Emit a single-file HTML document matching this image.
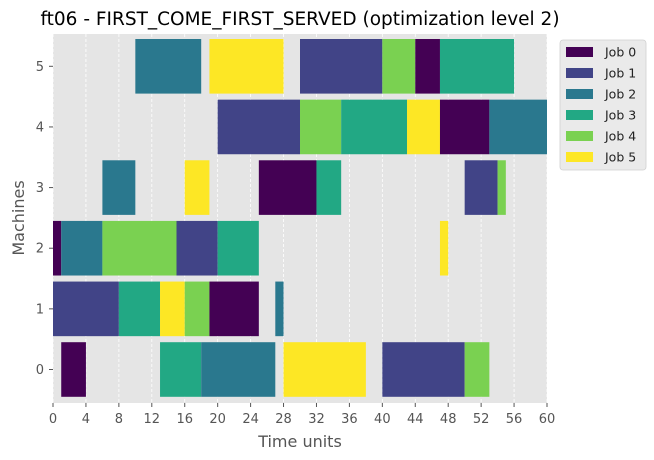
<!DOCTYPE html>
<html><head><meta charset="utf-8"><style>
body{margin:0;background:#fff;}
svg{display:block;font-family:"DejaVu Sans","Liberation Sans",sans-serif;}
</style></head><body>
<svg id="chart" width="654" height="460" viewBox="0 0 654 460" xmlns="http://www.w3.org/2000/svg">
<rect x="0" y="0" width="654" height="460" fill="#fff"/>
<text x="300" y="25" text-anchor="middle" font-size="18.5" fill="#000">ft06 - FIRST_COME_FIRST_SERVED (optimization level 2)</text>
<rect x="53" y="34" width="494" height="369" fill="#e5e5e5"/>
<g id="grid"></g>
<g id="bars"></g>
<g id="xaxis"></g>
<g id="yaxis"></g>
<text x="300" y="447" text-anchor="middle" font-size="16" fill="#555">Time units</text>
<text x="24" y="218" text-anchor="middle" font-size="16" fill="#555" transform="rotate(-90 24 218)">Machines</text>
<g id="legend"></g>
</svg>
<script>
const jobs = ["Job 0","Job 1","Job 2","Job 3","Job 4","Job 5"];
const jobColors = ["#440154","#414487","#2a788e","#22a884","#7ad151","#fde725"];
const xTicks = [0,4,8,12,16,20,24,28,32,36,40,44,48,52,56,60];
const yTicks = [0,1,2,3,4,5];
const taskMachine = [5,5,5,5,5,5, 4,4,4,4,4,4, 3,3,3,3,3,3, 2,2,2,2,2,2, 1,1,1,1,1,1, 0,0,0,0,0,0];
const taskJob     = [2,5,1,4,0,3, 1,4,3,5,0,2, 2,5,0,3,1,4, 0,2,4,1,3,5, 1,3,5,4,0,2, 0,3,2,5,1,4];
const taskStart   = [10,19,30,40,44,47, 20,30,35,43,47,53, 6,16,25,32,50,54, 0,1,6,15,20,47, 0,8,13,16,19,27, 1,13,18,28,40,50];
const taskEnd     = [18,28,40,44,47,56, 30,35,43,47,53,60, 10,19,32,35,54,55, 1,6,15,20,25,48, 8,13,16,19,25,28, 4,18,27,38,50,53];

const NS="http://www.w3.org/2000/svg";
const X0=53,X1=547,XMIN=0,XMAX=60;
const xs=v=>X0+(v-XMIN)/(XMAX-XMIN)*(X1-X0);
const ys=m=>369.5-m*60.64;
const BH=54.6;
function mk(tag,attrs,parent){const e=document.createElementNS(NS,tag);for(const k in attrs)e.setAttribute(k,attrs[k]);parent.appendChild(e);return e;}
const grid=document.getElementById('grid'),bars=document.getElementById('bars'),xa=document.getElementById('xaxis'),ya=document.getElementById('yaxis'),lg=document.getElementById('legend');
xTicks.forEach(t=>{
  const x=xs(t);
  const g=mk('line',{x1:x,x2:x,y1:34,y2:403,stroke:'#fff','stroke-width':0.8,'stroke-dasharray':'3,2'},grid);
  
  
  const tk=mk('line',{x1:x,x2:x,y1:403,y2:407,stroke:'#555','stroke-width':1},xa);
  
  
  const tl=mk('text',{x:x,y:423,'text-anchor':'middle','font-size':13,fill:'#555'},xa);
  tl.textContent=t;
  
  
});
yTicks.forEach(t=>{
  const y=ys(t);
  const tk=mk('line',{x1:49,x2:53,y1:y,y2:y,stroke:'#555','stroke-width':1},ya);
  
  
  const tl=mk('text',{x:44,y:y+4.5,'text-anchor':'end','font-size':13,fill:'#555'},ya);
  tl.textContent=t;
  
  
});
for(let i=0;i<taskJob.length;i++){
  const x=xs(taskStart[i]),w=xs(taskEnd[i])-x;
  const r=mk('rect',{x:x,y:ys(taskMachine[i])-BH/2,width:w,height:BH,fill:jobColors[taskJob[i]]},bars);
  
  
}
const box=mk('rect',{x:560,y:40,width:86,height:130,rx:3,fill:'#e5e5e5',stroke:'#d0d0d0','stroke-width':0.8,'fill-opacity':0.8},lg);


jobs.forEach((j,k)=>{
  const y=52+k*21;
  const s=mk('rect',{x:566,y:y-5,width:27,height:10,fill:jobColors[k]},lg);
  
  
  const t=mk('text',{x:605,y:y+4.5,'font-size':12.5,fill:'#222'},lg);
  t.textContent=j;
  
  
});
</script>
</body></html>
